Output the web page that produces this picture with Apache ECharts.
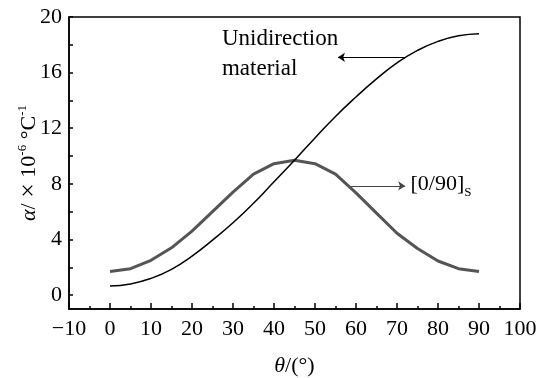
<!DOCTYPE html>
<html>
<head>
<meta charset="utf-8">
<script src="https://cdn.jsdelivr.net/npm/echarts@6/dist/echarts.min.js"></script>
<style>html,body{margin:0;padding:0;background:#fff}#c{width:537px;height:378px}</style>
</head>
<body>
<div id="c"></div>
<script>
var theta = [0,5,10,15,20,25,30,35,40,45,50,55,60,65,70,75,80,85,90];
var uniValues = [0.65,0.8,1.2,1.85,2.8,3.95,5.2,6.6,8.15,9.7,11.3,12.85,14.25,15.55,16.7,17.6,18.25,18.65,18.8];
var crossValues = [1.7,1.9,2.5,3.4,4.6,6.0,7.4,8.7,9.45,9.7,9.45,8.7,7.35,5.9,4.45,3.35,2.45,1.9,1.7];
var yLabelValues = [0,4,8,12,16,20];
var yTickValues = [0,2,4,6,8,10,12,14,16,18,20];
var uniLabel = 'Unidirection\nmaterial';
var crossLabel = '[0/90]';
var crossSub = 'S';

var FONT = "'Liberation Serif','Times New Roman',serif";
function pairs(xs, ys){ return xs.map(function(x,i){ return [x, ys[i]]; }); }

var chart = echarts.init(document.getElementById('c'));
chart.setOption({
  animation: false,
  backgroundColor: '#fff',
  grid: { left: 69, right: 17, top: 17, bottom: 69, outerBoundsMode: 'none', containLabel: false,
    show: true, borderColor: '#000', borderWidth: 1.5, backgroundColor: 'transparent' },
  xAxis: {
    type: 'value', min: -10, max: 100, interval: 10,
    name: '{i|θ}{n|/(°)}', nameLocation: 'middle', nameGap: 46, nameMoveOverlap: false,
    nameTextStyle: { fontFamily: FONT, fontSize: 22, color: '#000',
      rich: {
        i: { fontFamily: FONT, fontSize: 22, fontStyle: 'italic', color: '#000' },
        n: { fontFamily: FONT, fontSize: 22, color: '#000' }
      } },
    axisLine: { show: true, onZero: false, lineStyle: { color: '#000', width: 1.5 } },
    axisTick: { show: true, inside: true, length: 6, lineStyle: { color: '#000', width: 1.5 } },
    minorTick: { show: true, splitNumber: 2, length: 3, lineStyle: { color: '#000', width: 1.5 } },
    axisLabel: { fontFamily: FONT, fontSize: 22, color: '#000', margin: 9,
      formatter: function(v){ return v < 0 ? '\u2212' + Math.abs(v) : String(v); } },
    splitLine: { show: false }
  },
  yAxis: {
    type: 'value', min: -1, max: 20,
    name: '{i|α}{n|/ }{x|×}{n| 10}{s|-6}{n| °C}{s|-1}', nameLocation: 'middle', nameGap: 27, nameMoveOverlap: false,
    nameTextStyle: { fontFamily: FONT, fontSize: 22, color: '#000',
      rich: {
        i: { fontFamily: FONT, fontSize: 22, fontStyle: 'italic', color: '#000' },
        n: { fontFamily: FONT, fontSize: 22, color: '#000' },
        x: { fontFamily: FONT, fontSize: 26, color: '#000' },
        s: { fontFamily: FONT, fontSize: 13, color: '#000', verticalAlign: 'top', lineHeight: 22 }
      } },
    axisLine: { show: true, onZero: false, lineStyle: { color: '#000', width: 1.5 } },
    axisTick: { show: true, inside: true, length: 4, customValues: yTickValues, lineStyle: { color: '#000', width: 1.5 } },
    axisLabel: { fontFamily: FONT, fontSize: 22, color: '#000', margin: 7, customValues: yLabelValues },
    splitLine: { show: false }
  },
  series: [
    {
      type: 'line', data: pairs(theta, uniValues), showSymbol: false, symbol: 'none', smooth: true,
      lineStyle: { color: '#000', width: 1.5 }, z: 3, emphasis: { disabled: true },
      markLine: {
        silent: true, animation: false, symbol: ['none', 'arrow'], symbolSize: 7,
        lineStyle: { color: '#000', width: 1, type: 'solid' }, label: { show: false },
        data: [[{ coord: [72, 17.1] }, { coord: [55.6, 17.1] }]]
      },
      markPoint: {
        silent: true, animation: false, symbol: 'circle', symbolSize: 0,
        itemStyle: { color: 'transparent' },
        label: { show: true, position: 'right', distance: 0, formatter: uniLabel,
          fontFamily: FONT, fontSize: 23, color: '#000', lineHeight: 30, align: 'left' },
        data: [{ coord: [27.3, 17.35] }]
      }
    },
    {
      type: 'line', data: pairs(theta, crossValues), showSymbol: false, symbol: 'none', smooth: false,
      lineStyle: { color: '#555', width: 3 }, z: 2, emphasis: { disabled: true },
      markLine: {
        silent: true, animation: false, symbol: ['none', 'arrow'], symbolSize: 7,
        lineStyle: { color: '#444', width: 1, type: 'solid' }, label: { show: false },
        data: [[{ coord: [58.8, 7.85] }, { coord: [72, 7.85] }]]
      },
      markPoint: {
        silent: true, animation: false, symbol: 'circle', symbolSize: 0,
        itemStyle: { color: 'transparent' },
        label: { show: true, position: 'right', distance: 0,
          formatter: '{m|' + crossLabel + '}{b|' + crossSub + '}',
          rich: {
            m: { fontFamily: FONT, fontSize: 22, color: '#000' },
            b: { fontFamily: FONT, fontSize: 13, color: '#000', verticalAlign: 'bottom', lineHeight: 30 }
          } },
        data: [{ coord: [73.3, 8.0] }]
      }
    }
  ]
});
</script>
</body>
</html>
